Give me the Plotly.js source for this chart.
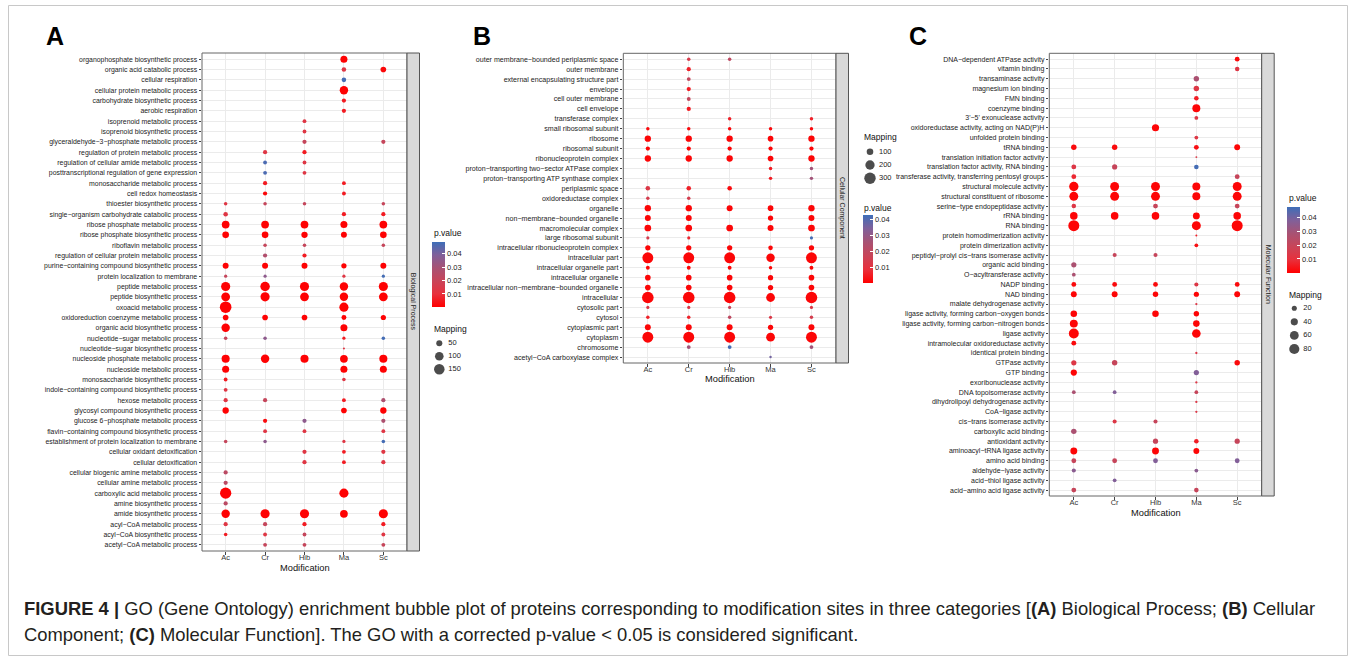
<!DOCTYPE html>
<html><head><meta charset="utf-8">
<script src="https://cdn.plot.ly/plotly-3.0.1.min.js"></script>
<style>html,body{margin:0;padding:0;background:#fff;}#chart{width:1355px;height:660px;}</style>
</head><body><div id="chart"></div>
<script>
const _ = null;
const modifications = ['Ac','Cr','Hib','Ma','Sc'];

// ---------- A: Biological Process ----------
const bpTerms = ['organophosphate biosynthetic process','organic acid catabolic process','cellular respiration','cellular protein metabolic process','carbohydrate biosynthetic process','aerobic respiration','isoprenoid metabolic process','isoprenoid biosynthetic process','glyceraldehyde\u22123\u2212phosphate metabolic process','regulation of protein metabolic process','regulation of cellular amide metabolic process','posttranscriptional regulation of gene expression','monosaccharide metabolic process','cell redox homeostasis','thioester biosynthetic process','single\u2212organism carbohydrate catabolic process','ribose phosphate metabolic process','ribose phosphate biosynthetic process','riboflavin metabolic process','regulation of cellular protein metabolic process','purine\u2212containing compound biosynthetic process','protein localization to membrane','peptide metabolic process','peptide biosynthetic process','oxoacid metabolic process','oxidoreduction coenzyme metabolic process','organic acid biosynthetic process','nucleotide\u2212sugar metabolic process','nucleotide\u2212sugar biosynthetic process','nucleoside phosphate metabolic process','nucleoside metabolic process','monosaccharide biosynthetic process','indole\u2212containing compound biosynthetic process','hexose metabolic process','glycosyl compound biosynthetic process','glucose 6\u2212phosphate metabolic process','flavin\u2212containing compound biosynthetic process','establishment of protein localization to membrane','cellular oxidant detoxification','cellular detoxification','cellular biogenic amine metabolic process','cellular amine metabolic process','carboxylic acid metabolic process','amine biosynthetic process','amide biosynthetic process','acyl\u2212CoA metabolic process','acyl\u2212CoA biosynthetic process','acetyl\u2212CoA metabolic process'];
const bpMapping = [
[_,_,_,67,_],[_,_,_,28,43],[_,_,_,28,_],[_,_,_,96,_],[_,_,_,24,_],[_,_,_,24,_],
[_,_,20,_,_],[_,_,20,_,_],[_,_,24,_,24],[_,24,24,_,_],[_,20,20,_,_],[_,20,20,_,_],
[_,24,_,20,_],[_,24,_,20,_],[17,17,17,_,17],[28,_,_,24,24],[81,81,81,67,81],[60,60,54,48,60],
[_,17,17,_,17],[_,24,24,_,_],[48,48,48,37,48],[14,14,_,14,14],[113,122,113,96,113],[104,113,104,96,104],
[181,_,_,113,_],[43,43,43,33,37],[96,_,_,67,_],[17,17,_,14,17],[_,_,_,6,_],[88,96,88,81,88],
[67,_,_,67,67],[20,_,_,17,_],[20,_,_,_,_],[24,24,_,20,24],[54,_,_,43,54],[_,24,24,_,24],
[_,20,20,_,20],[17,17,_,14,17],[_,_,24,20,24],[_,_,24,20,24],[24,_,_,_,_],[24,_,_,_,_],
[171,_,_,113,_],[24,_,_,_,_],[96,113,113,81,113],[24,24,24,_,24],[17,20,20,_,20],[_,20,20,_,20]];
const bpPvalue = [
[_,_,_,.001,_],[_,_,_,.013,.002],[_,_,_,.048,_],[_,_,_,.001,_],[_,_,_,.006,_],[_,_,_,.006,_],
[_,_,.013,_,_],[_,_,.013,_,_],[_,_,.021,_,.021],[_,.013,.006,_,_],[_,.047,.013,_,_],[_,.047,.013,_,_],
[_,.006,_,.006,_],[_,.002,_,.006,_],[.013,.021,.021,_,.021],[.013,_,_,.006,.006],[.001,.001,.001,.001,.001],[.001,.001,.001,.001,.001],
[_,.021,.021,_,.021],[_,.027,.006,_,_],[.001,.001,.001,.001,.001],[.021,.036,_,.013,.048],[.001,.001,.001,.001,.001],[.001,.001,.001,.001,.001],
[.001,_,_,.001,_],[.001,.001,.001,.001,.001],[.001,_,_,.001,_],[.021,.036,_,.006,.048],[_,_,_,.013,_],[.001,.001,.001,.001,.001],
[.001,_,_,.001,.001],[.006,_,_,.013,_],[.013,_,_,_,_],[.013,.021,_,.006,.028],[.001,_,_,.001,.001],[_,.003,.036,_,.028],
[_,.013,.013,_,.013],[.021,.036,_,.013,.048],[_,_,.013,.006,.013],[_,_,.013,.006,.013],[.024,_,_,_,_],[.024,_,_,_,_],
[.001,_,_,.001,_],[.024,_,_,_,_],[.001,.001,.001,.001,.001],[.013,.021,.006,_,.006],[.006,.013,.021,_,.013],[_,.021,.021,_,.021]];
const bpSizeBreaks = [50,100,150];
const bpColorRange = [0.0005,0.049];

// ---------- B: Cellular Component ----------
const ccTerms = ['outer membrane\u2212bounded periplasmic space','outer membrane','external encapsulating structure part','envelope','cell outer membrane','cell envelope','transferase complex','small ribosomal subunit','ribosome','ribosomal subunit','ribonucleoprotein complex','proton\u2212transporting two\u2212sector ATPase complex','proton\u2212transporting ATP synthase complex','periplasmic space','oxidoreductase complex','organelle','non\u2212membrane\u2212bounded organelle','macromolecular complex','large ribosomal subunit','intracellular ribonucleoprotein complex','intracellular part','intracellular organelle part','intracellular organelle','intracellular non\u2212membrane\u2212bounded organelle','intracellular','cytosolic part','cytosol','cytoplasmic part','cytoplasm','chromosome','acetyl\u2212CoA carboxylase complex'];
const ccMapping = [
[_,28,28,_,_],[_,41,_,_,_],[_,34,_,_,_],[_,41,_,_,_],[_,34,_,_,_],[_,41,_,_,_],
[_,_,28,_,28],[28,28,28,28,28],[92,92,92,73,92],[41,41,41,41,41],[92,92,92,73,92],[_,_,_,28,28],
[_,_,_,28,28],[48,48,48,_,_],[28,28,_,_,_],[92,92,82,73,92],[82,82,_,64,82],[103,103,103,82,103],
[23,23,_,_,23],[64,64,64,48,64],[273,273,273,164,273],[34,34,34,28,34],[73,73,73,64,73],[73,73,73,64,73],
[310,310,310,178,310],[23,23,23,_,23],[28,28,28,23,28],[82,82,82,64,82],[273,273,273,178,273],[_,34,34,_,34],
[_,_,_,14,_]];
const ccPvalue = [
[_,.013,.02,_,_],[_,.006,_,_,_],[_,.018,_,_,_],[_,.005,_,_,_],[_,.018,_,_,_],[_,.005,_,_,_],
[_,_,.006,_,.006],[.002,.002,.002,.002,.002],[.001,.001,.001,.001,.001],[.001,.001,.001,.001,.001],[.001,.001,.001,.001,.001],[_,_,_,.005,.027],
[_,_,_,.005,.027],[.012,.006,.002,_,_],[.014,.014,_,_,_],[.001,.001,.001,.001,.001],[.001,.001,_,.001,.001],[.001,.001,.001,.001,.001],
[.014,.007,_,_,.042],[.001,.001,.001,.001,.001],[.001,.001,.001,.001,.001],[.001,.001,.001,.001,.001],[.001,.001,.001,.001,.001],[.001,.001,.001,.001,.001],
[.001,.001,.001,.001,.001],[.012,.012,.018,_,.012],[.006,.006,.02,.012,.014],[.001,.001,.001,.001,.001],[.001,.001,.001,.001,.001],[_,.027,.042,_,.027],
[_,_,_,.036,_]];
const ccSizeBreaks = [100,200,300];
const ccColorRange = [0,0.0427];

// ---------- C: Molecular Function ----------
const mfTerms = ['DNA\u2212dependent ATPase activity','vitamin binding','transaminase activity','magnesium ion binding','FMN binding','coenzyme binding',"3'\u22125' exonuclease activity",'oxidoreductase activity, acting on NAD(P)H','unfolded protein binding','tRNA binding','translation initiation factor activity','translation factor activity, RNA binding','transferase activity, transferring pentosyl groups','structural molecule activity','structural constituent of ribosome','serine\u2212type endopeptidase activity','rRNA binding','RNA binding','protein homodimerization activity','protein dimerization activity','peptidyl\u2212prolyl cis\u2212trans isomerase activity','organic acid binding','O\u2212acyltransferase activity','NADP binding','NAD binding','malate dehydrogenase activity','ligase activity, forming carbon\u2212oxygen bonds','ligase activity, forming carbon\u2212nitrogen bonds','ligase activity','intramolecular oxidoreductase activity','identical protein binding','GTPase activity','GTP binding','exoribonuclease activity','DNA topoisomerase activity','dihydrolipoyl dehydrogenase activity','CoA\u2212ligase activity','cis\u2212trans isomerase activity','carboxylic acid binding','antioxidant activity','aminoacyl\u2212tRNA ligase activity','amino acid binding','aldehyde\u2212lyase activity','acid\u2212thiol ligase activity','acid\u2212amino acid ligase activity'];
const mfMapping = [
[_,_,_,_,18],[_,_,_,_,16],[_,_,_,23,_],[_,_,_,23,_],[_,_,_,16,_],[_,_,_,49,_],
[_,_,_,11,_],[_,_,40,_,_],[_,_,_,11,_],[23,23,_,18,27],[_,_,_,3,_],[18,21,_,16,_],
[18,_,_,_,18],[67,62,62,49,62],[62,62,62,49,62],[16,_,18,_,18],[44,44,44,37,44],[94,_,_,62,94],
[_,_,_,3,_],[_,_,_,11,_],[_,13,13,_,_],[21,_,_,_,_],[11,_,_,_,_],[18,18,18,13,18],
[27,27,23,21,27],[_,_,_,4,_],[33,_,33,23,_],[49,_,_,33,_],[77,_,_,57,_],[18,_,_,_,_],
[_,_,_,4,_],[21,23,_,_,23],[30,_,_,21,_],[_,_,_,4,_],[11,11,_,11,_],[_,_,_,4,_],
[_,_,_,4,_],[_,13,13,_,_],[23,_,_,_,_],[_,_,21,16,21],[37,_,37,27,_],[18,18,18,_,18],
[13,_,_,11,_],[_,11,_,_,_],[18,_,_,16,_]];
const mfPvalue = [
[_,_,_,_,.002],[_,_,_,_,.013],[_,_,_,.028,_],[_,_,_,.013,_],[_,_,_,.006,_],[_,_,_,.001,_],
[_,_,_,.013,_],[_,_,.001,_,_],[_,_,_,.013,_],[.002,.002,_,.003,.001],[_,_,_,.013,_],[.013,.02,_,.047,_],
[.008,_,_,_,.02],[.001,.001,.001,.001,.001],[.001,.001,.001,.001,.001],[.013,_,.02,_,.02],[.001,.001,.001,.001,.001],[.001,_,_,.001,.001],
[_,_,_,.006,_],[_,_,_,.003,_],[_,.02,.02,_,_],[.028,_,_,_,_],[.028,_,_,_,_],[.002,.002,.002,.013,.002],
[.001,.001,.001,.001,.001],[_,_,_,.013,_],[.001,_,.001,.001,_],[.001,_,_,.001,_],[.001,_,_,.001,_],[.002,_,_,_,_],
[_,_,_,.013,_],[.013,.02,_,_,.002],[.001,_,_,.038,_],[_,_,_,.013,_],[.028,.038,_,.02,_],[_,_,_,.013,_],
[_,_,_,.013,_],[_,.013,.02,_,_],[.028,_,_,_,_],[_,_,.02,.006,.02],[.001,_,.001,.001,_],[.02,.02,.038,_,.038],
[.036,_,_,.036,_],[_,.038,_,_,_],[.02,_,_,.02,_]];
const mfSizeBreaks = [20,40,60,80];
const mfColorRange = [0,0.048];

const colorTicks = [0.01,0.02,0.03,0.04];

// ---------- layout helpers ----------
const W = 1355, H = 660;
const F = 'Liberation Sans, Arial, Helvetica, sans-serif';
const pvScale = [[0,'#FF0000'],[0.2,'#E8303C'],[0.4,'#C94458'],[0.6,'#A85273'],[0.8,'#80609A'],[1,'#3E6EB8']];
const px = v => v / W, py = v => 1 - v / H;

const panels = [
  {terms:bpTerms, map:bpMapping, pv:bpPvalue, range:bpColorRange, breaks:bpSizeBreaks, sizeref:2.7,
   x0:202, x1:407, yT:53, yB:551, font:6.9, strip:'Biological Process', letter:'A', letterX:55,
   modY:567.5,
   cb:{x:432, top:241.7, len:65, thick:13, titleY:233.3},
   sz:{title:329, cx:439.3, ys:[343.3,356.7,369.3]}},
  {terms:ccTerms, map:ccMapping, pv:ccPvalue, range:ccColorRange, breaks:ccSizeBreaks, sizeref:4.6,
   x0:623.3, x1:836, yT:53.3, yB:363, font:7.1, strip:'Cellular Component', letter:'B', letterX:482,
   modY:379,
   cb:{x:862.7, top:215, len:67.7, thick:10, titleY:207.7},
   sz:{title:137, cx:870, ys:[151.7,165.7,178.3]}},
  {terms:mfTerms, map:mfMapping, pv:mfPvalue, range:mfColorRange, breaks:mfSizeBreaks, sizeref:1.55,
   x0:1049.3, x1:1261.7, yT:53.3, yB:496, font:7.0, strip:'Molecular Function', letter:'C', letterX:918,
   modY:512.5,
   cb:{x:1287, top:206.7, len:66, thick:13, titleY:198.3},
   sz:{title:295, cx:1294.3, ys:[308.3,321.7,335,349]}}
];
const stripW = 12.5;

const data = [];
const layout = {width:W, height:H, margin:{l:0,r:0,t:0,b:0}, paper_bgcolor:'#fff', plot_bgcolor:'rgba(0,0,0,0)',
  showlegend:false, hovermode:false, font:{family:F, color:'#222'}, shapes:[], annotations:[]};

panels.forEach((p, k) => {
  const n = k + 1, ax = n === 1 ? '' : String(n);
  const xs = [], ys = [], ss = [], cs = [];
  p.terms.forEach((t, i) => modifications.forEach((m, j) => {
    const v = p.map[i][j];
    if (v != null) { xs.push(m); ys.push(t); ss.push(v); cs.push(p.pv[i][j]); }
  }));
  data.push({type:'scatter', mode:'markers', x:xs, y:ys, xaxis:'x'+ax, yaxis:'y'+ax, hoverinfo:'skip',
    marker:{size:ss, sizemode:'area', sizeref:p.sizeref, color:cs, colorscale:pvScale, cmin:p.range[0], cmax:p.range[1],
      line:{width:0}, opacity:1,
      colorbar:{x:px(p.cb.x), xanchor:'left', y:py(p.cb.top), yanchor:'top', len:p.cb.len, lenmode:'pixels',
        thickness:p.cb.thick, thicknessmode:'pixels', xpad:0, ypad:0, outlinewidth:0, borderwidth:0,
        tickvals:colorTicks, ticktext:colorTicks.map(v=>v.toFixed(2)), ticks:'inside', ticklen:2.5, tickwidth:1, tickcolor:'#fff',
        tickfont:{size:7.5, color:'#222', family:F}, title:{text:''}}}});
  const axisCommon = {type:'category', categoryorder:'array', autorange:false, showgrid:true, gridcolor:'#EBEBEB', gridwidth:1,
    zeroline:false, showline:false, ticks:'outside', ticklen:2.5, tickwidth:1, tickcolor:'#444', fixedrange:true};
  layout['xaxis'+ax] = Object.assign({}, axisCommon, {domain:[px(p.x0), px(p.x1)], anchor:'y'+ax, categoryarray:modifications,
    range:[-0.6, modifications.length-0.4], ticklabelstandoff:-4, tickfont:{size:7.5, color:'#333', family:F}});
  layout['yaxis'+ax] = Object.assign({}, axisCommon, {domain:[py(p.yB), py(p.yT)], anchor:'x'+ax,
    categoryarray:p.terms.slice().reverse(), range:[-0.6, p.terms.length-0.4], tickfont:{size:p.font, color:'#222', family:F}});
  // panel border and strip
  layout.shapes.push({type:'rect', xref:'paper', yref:'paper', x0:px(p.x0), x1:px(p.x1), y0:py(p.yB), y1:py(p.yT),
    line:{color:'#666', width:1}, fillcolor:'rgba(0,0,0,0)', layer:'above'});
  layout.shapes.push({type:'rect', xref:'paper', yref:'paper', x0:px(p.x1), x1:px(p.x1+stripW), y0:py(p.yB), y1:py(p.yT),
    line:{color:'#555', width:1}, fillcolor:'#D9D9D9', layer:'above'});
  layout.annotations.push({xref:'paper', yref:'paper', x:px(p.x1+stripW/2), y:py((p.yT+p.yB)/2), text:p.strip, textangle:90,
    showarrow:false, font:{size:7, color:'#1A1A1A', family:F}, xanchor:'center', yanchor:'middle'});
  // axis title
  layout.annotations.push({xref:'paper', yref:'paper', x:px((p.x0+p.x1)/2), y:py(p.modY), text:'Modification', showarrow:false,
    font:{size:9.3, color:'#111', family:F}, xanchor:'center', yanchor:'middle'});
  // panel letter
  layout.annotations.push({xref:'paper', yref:'paper', x:px(p.letterX), y:py(36), text:'<b>'+p.letter+'</b>', showarrow:false,
    font:{size:25, color:'#000', family:F}, xanchor:'center', yanchor:'middle'});
  // legend titles
  layout.annotations.push({xref:'paper', yref:'paper', x:px(p.cb.x-0.5), y:py(p.cb.titleY), text:'p.value', showarrow:false,
    font:{size:8.5, color:'#111', family:F}, xanchor:'left', yanchor:'middle'});
  layout.annotations.push({xref:'paper', yref:'paper', x:px(p.cb.x-0.5), y:py(p.sz.title), text:'Mapping', showarrow:false,
    font:{size:8.5, color:'#111', family:F}, xanchor:'left', yanchor:'middle'});
  // size legend on its own small axes
  const la = String(n + 3);
  const step = (p.sz.ys[p.sz.ys.length-1] - p.sz.ys[0]) / (p.sz.ys.length - 1);
  const labels = p.breaks.map(String);
  layout['xaxis'+la] = {domain:[px(p.sz.cx-10), px(p.sz.cx+10)], range:[-1,1], autorange:false, visible:false, anchor:'y'+la, fixedrange:true};
  layout['yaxis'+la] = {domain:[py(p.sz.ys[p.sz.ys.length-1]+step/2), py(p.sz.ys[0]-step/2)], type:'category', categoryorder:'array',
    categoryarray:labels.slice().reverse(), range:[-0.5, labels.length-0.5], autorange:false, visible:false, anchor:'x'+la, fixedrange:true};
  data.push({type:'scatter', mode:'markers', x:labels.map(()=>0), y:labels, xaxis:'x'+la, yaxis:'y'+la, hoverinfo:'skip', cliponaxis:false,
    marker:{size:p.breaks, sizemode:'area', sizeref:p.sizeref, color:'#000', line:{width:0}}});
  data.push({type:'scatter', mode:'text', x:labels.map(()=>0.9), y:labels, text:labels, textposition:'middle right', cliponaxis:false,
    xaxis:'x'+la, yaxis:'y'+la, hoverinfo:'skip', textfont:{size:7.5, color:'#222', family:F}});
});

// caption and frame
layout.annotations.push({xref:'paper', yref:'paper', x:px(22), y:py(608), xanchor:'left', yanchor:'middle', showarrow:false,
  text:'<b>FIGURE 4 |</b> GO (Gene Ontology) enrichment bubble plot of proteins corresponding to modification sites in three categories [<b>(A)</b> Biological Process; <b>(B)</b> Cellular',
  font:{size:18.4, color:'#231F20', family:F}});
layout.annotations.push({xref:'paper', yref:'paper', x:px(22), y:py(634), xanchor:'left', yanchor:'middle', showarrow:false,
  text:'Component; <b>(C)</b> Molecular Function]. The GO with a corrected p-value &lt; 0.05 is considered significant.',
  font:{size:18.4, color:'#231F20', family:F}});
layout.shapes.push({type:'rect', xref:'paper', yref:'paper', x0:px(8.5), x1:px(1347.5), y0:py(655.5), y1:py(5.5),
  line:{color:'#C8C8C8', width:1}, fillcolor:'rgba(0,0,0,0)', layer:'below'});

Plotly.newPlot('chart', data, layout, {staticPlot:true, displayModeBar:false});
</script></body></html>
